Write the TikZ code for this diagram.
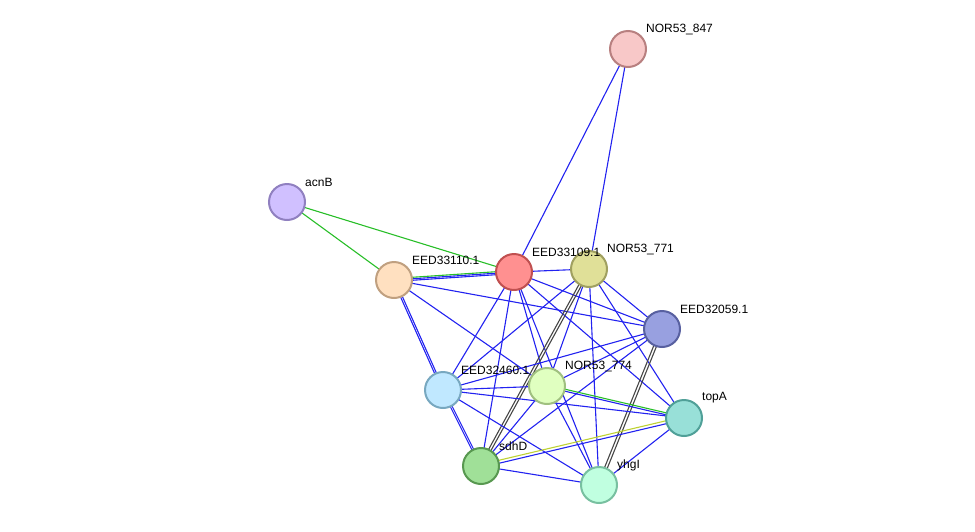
\documentclass[tikz,border=0pt]{standalone}
\usepackage{fontspec}
\setmainfont{Liberation Sans}
\usetikzlibrary{backgrounds}

\definecolor{lnkblue}{RGB}{34,34,240}
\definecolor{lnkgreen}{RGB}{40,190,40}
\definecolor{lnkolive}{RGB}{190,210,50}
\definecolor{lnkgrey}{RGB}{70,70,70}

\tikzset{every picture/.style={line width=0.75pt}}
\tikzset{
  prot/.style={circle, minimum size=36pt, inner sep=0pt, line width=2pt},
  plabel/.style={anchor=west, font=\fontsize{12}{14}\selectfont, inner sep=0pt},
  blue link/.style={draw=lnkblue, line width=1.1pt},
  green link/.style={draw=lnkgreen, line width=1.1pt},
  olive link/.style={draw=lnkolive, line width=1.1pt},
  grey link/.style={draw=lnkgrey, line width=1.1pt},
}

\begin{document}
\begin{tikzpicture}[x=1pt,y=1pt,yscale=-1]
	\useasboundingbox (0,0) rectangle (975,531);

	% proteins
	\node [prot, fill={rgb,255:red,248;green,200;blue,200}, draw={rgb,255:red,184;green,128;blue,128}] (n847) at (628,49) {};
	\node [prot, fill={rgb,255:red,208;green,192;blue,255}, draw={rgb,255:red,144;green,128;blue,192}] (acnb) at (287,202) {};
	\node [prot, fill={rgb,255:red,255;green,224;blue,192}, draw={rgb,255:red,192;green,160;blue,128}] (e110) at (394,280) {};
	\node [prot, fill={rgb,255:red,255;green,144;blue,144}, draw={rgb,255:red,192;green,80;blue,80}] (e109) at (514,272) {};
	\node [prot, fill={rgb,255:red,224;green,224;blue,152}, draw={rgb,255:red,160;green,160;blue,96}] (n771) at (589,269) {};
	\node [prot, fill={rgb,255:red,152;green,160;blue,224}, draw={rgb,255:red,88;green,96;blue,160}] (e059) at (662,329) {};
	\node [prot, fill={rgb,255:red,192;green,232;blue,255}, draw={rgb,255:red,120;green,168;blue,192}] (e460) at (443,390) {};
	\node [prot, fill={rgb,255:red,224;green,255;blue,192}, draw={rgb,255:red,160;green,192;blue,128}] (n774) at (547,386) {};
	\node [prot, fill={rgb,255:red,152;green,224;blue,216}, draw={rgb,255:red,80;green,160;blue,152}] (topa) at (684,418) {};
	\node [prot, fill={rgb,255:red,160;green,224;blue,152}, draw={rgb,255:red,88;green,152;blue,80}] (sdhd) at (481,466) {};
	\node [prot, fill={rgb,255:red,192;green,255;blue,224}, draw={rgb,255:red,120;green,192;blue,160}] (yhgi) at (599,485) {};

	% links
	\begin{pgfonlayer}{background}
	\draw [green link] (acnb.center) -- (e110.center);
	\draw [green link] (acnb.center) -- (e109.center);
	\draw [blue link] (n847.center) -- (e109.center);
	\draw [blue link] (n847.center) -- (n771.center);
	\draw [blue link, transform canvas={yshift=-1.5pt}] (e110.center) -- (e109.center);
	\draw [blue link] (e110.center) -- (e109.center);
	\draw [green link, transform canvas={yshift=1.5pt}] (e110.center) -- (e109.center);
	\draw [blue link] (e109.center) -- (n771.center);
	\draw [blue link, transform canvas={xshift=-1pt}] (e110.center) -- (e460.center);
	\draw [blue link, transform canvas={xshift=1pt}] (e110.center) -- (e460.center);
	\draw [blue link, transform canvas={xshift=-1pt}] (e460.center) -- (sdhd.center);
	\draw [blue link, transform canvas={xshift=1pt}] (e460.center) -- (sdhd.center);
	\draw [blue link] (e110.center) -- (n774.center);
	\draw [blue link] (e110.center) -- (e059.center);
	\draw [blue link] (e109.center) -- (e460.center);
	\draw [blue link] (e109.center) -- (n774.center);
	\draw [blue link] (e109.center) -- (sdhd.center);
	\draw [blue link] (e109.center) -- (yhgi.center);
	\draw [blue link] (e109.center) -- (topa.center);
	\draw [blue link] (e109.center) -- (e059.center);
	\draw [blue link] (n771.center) -- (e460.center);
	\draw [blue link] (n771.center) -- (n774.center);
	\draw [grey link, transform canvas={xshift=-1.5pt}] (n771.center) -- (sdhd.center);
	\draw [grey link, transform canvas={xshift=1.5pt}] (n771.center) -- (sdhd.center);
	\draw [blue link] (n771.center) -- (yhgi.center);
	\draw [blue link] (n771.center) -- (topa.center);
	\draw [blue link] (n771.center) -- (e059.center);
	\draw [blue link] (e059.center) -- (e460.center);
	\draw [blue link] (e059.center) -- (n774.center);
	\draw [blue link] (e059.center) -- (sdhd.center);
	\draw [grey link, transform canvas={xshift=-1.5pt}] (e059.center) -- (yhgi.center);
	\draw [grey link, transform canvas={xshift=1.5pt}] (e059.center) -- (yhgi.center);
	\draw [blue link] (e460.center) -- (n774.center);
	\draw [blue link] (e460.center) -- (topa.center);
	\draw [blue link] (e460.center) -- (yhgi.center);
	\draw [blue link, transform canvas={yshift=-1pt}] (n774.center) -- (topa.center);
	\draw [green link, transform canvas={yshift=1pt}] (n774.center) -- (topa.center);
	\draw [blue link] (n774.center) -- (sdhd.center);
	\draw [blue link] (n774.center) -- (yhgi.center);
	\draw [blue link, transform canvas={yshift=-1.5pt}] (sdhd.center) -- (topa.center);
	\draw [olive link, transform canvas={yshift=1.5pt}] (sdhd.center) -- (topa.center);
	\draw [blue link] (sdhd.center) -- (yhgi.center);
	\draw [blue link] (topa.center) -- (yhgi.center);
	\end{pgfonlayer}

	% labels
	\node [plabel] (l847) at (646,29) {NOR53\_847};
	\node [plabel] (lacnb) at (305,182) {acnB};
	\node [plabel] (l110) at (412,260) {EED33110.1};
	\node [plabel] (l109) at (532,252) {EED33109.1};
	\node [plabel] (l771) at (607,249) {NOR53\_771};
	\node [plabel] (l059) at (680,309) {EED32059.1};
	\node [plabel] (l460) at (461,370) {EED32460.1};
	\node [plabel] (l774) at (565,366) {NOR53\_774};
	\node [plabel] (ltopa) at (702,398) {topA};
	\node [plabel] (lsdhd) at (499,446) {sdhD};
	\node [plabel] (lyhgi) at (617,465) {yhgI};
\end{tikzpicture}
\end{document}
